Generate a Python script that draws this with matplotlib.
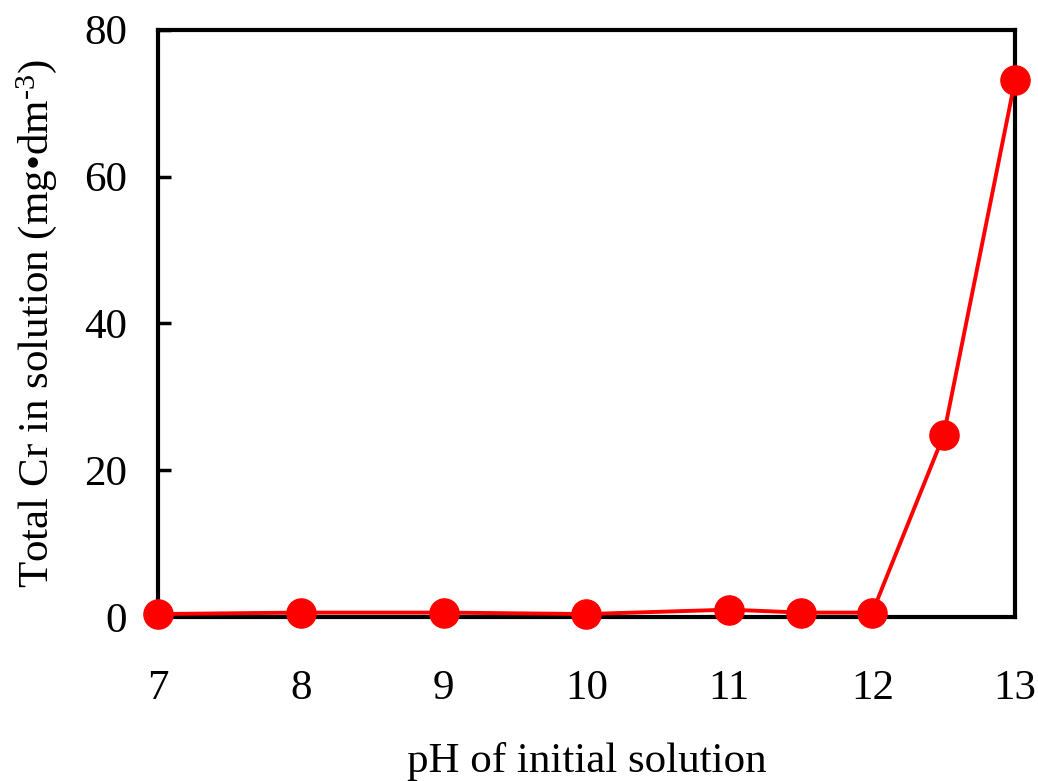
import matplotlib
matplotlib.use("Agg")
import matplotlib.pyplot as plt

# data
ph = [7, 8, 9, 10, 11, 11.5, 12, 12.5, 13]
total_cr = [0.4, 0.6, 0.6, 0.4, 1.0, 0.6, 0.6, 24.8, 73.2]
x_ticks = [7, 8, 9, 10, 11, 12, 13]
y_ticks = [0, 20, 40, 60, 80]

plt.rcParams["font.family"] = ["Liberation Serif", "DejaVu Serif"]
plt.rcParams["mathtext.fontset"] = "custom"
plt.rcParams["mathtext.rm"] = "Liberation Serif"
plt.rcParams["mathtext.it"] = "Liberation Serif:italic"

fig = plt.figure(figsize=(10.38, 7.81), dpi=100)
ax = fig.add_axes([0.152, 0.210, 0.826, 0.752])

ax.plot(ph, total_cr, color="#ff0000", lw=2.8, marker="o", ms=21,
        markerfacecolor="#ff0000", markeredgecolor="#ff0000", clip_on=False, zorder=3)

ax.set_xlim(7, 13); ax.set_ylim(0, 80)
ax.set_xticks(x_ticks); ax.set_yticks(y_ticks)
for s in ax.spines.values():
    s.set_linewidth(3)
ax.tick_params(axis="y", direction="in", length=9, width=2.5, labelsize=31, pad=22)
ax.tick_params(axis="x", length=0, labelsize=31, pad=38)

ax.set_xlabel("pH of initial solution", fontsize=31, labelpad=24)
ax.set_ylabel("Total Cr in solution (mg\u2022dm$^{\\text{-3}}$)", fontsize=31, labelpad=18)

fig.savefig("out.png", dpi=100)
